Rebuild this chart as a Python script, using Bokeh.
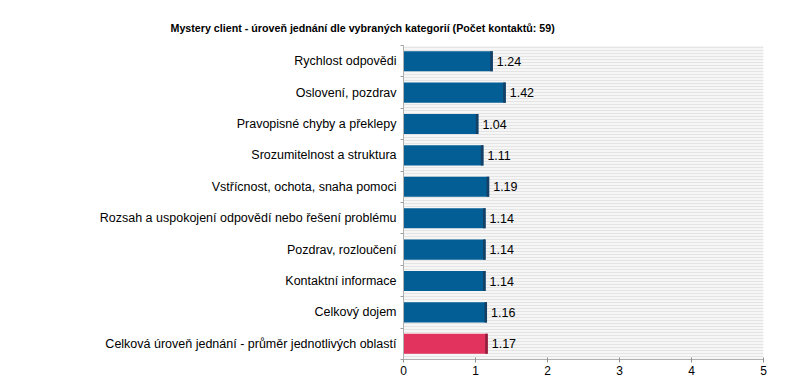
import numpy as np
from bokeh.plotting import figure
from bokeh.models import ColumnDataSource, FixedTicker, BoxAnnotation, Range1d, Title
from bokeh.core.properties import value
from bokeh.embed import file_html
from bokeh.resources import INLINE

title_text = "Mystery client - úroveň jednání dle vybraných kategorií (Počet kontaktů: 59)"
categories = [
    "Rychlost odpovědi",
    "Oslovení, pozdrav",
    "Pravopisné chyby a překlepy",
    "Srozumitelnost a struktura",
    "Vstřícnost, ochota, snaha pomoci",
    "Rozsah a uspokojení odpovědí nebo řešení problému",
    "Pozdrav, rozloučení",
    "Kontaktní informace",
    "Celkový dojem",
    "Celková úroveň jednání - průměr jednotlivých oblastí",
]
values = [1.24, 1.42, 1.04, 1.11, 1.19, 1.14, 1.14, 1.14, 1.16, 1.17]
highlight = [False] * 9 + [True]
x_ticks = [0, 1, 2, 3, 4, 5]

BLUE = "#035e95"
BLUE_EDGE = "#163f63"
RED = "#e2325e"
RED_EDGE = "#8e1f3d"
FONT = "Liberation Sans"

n = len(categories)
ypos = list(range(n - 1, -1, -1))
src = ColumnDataSource(dict(
    y=ypos,
    v=values,
    edge_left=[v - 0.035 for v in values],
    color=[RED if h else BLUE for h in highlight],
    edge=[RED_EDGE if h else BLUE_EDGE for h in highlight],
    lab=["%.2f" % v for v in values],
))

p = figure(width=792, height=377, output_backend="svg", toolbar_location=None,
           x_range=Range1d(0, 5), y_range=Range1d(-0.5, n - 0.5),
           min_border_left=403, min_border_right=29, min_border_top=45, min_border_bottom=17)
p.title = None
t = Title(text=title_text, align="left", offset=-233, standoff=23, text_font=FONT,
          text_font_size="10.7px", text_font_style="bold", text_color="#000000")
p.add_layout(t, "above")

p.outline_line_color = None
p.background_fill_color = "#ffffff"
p.border_fill_color = "#ffffff"
p.xgrid.visible = False
p.ygrid.visible = False

bg = BoxAnnotation(fill_color="#f6f6f6", fill_alpha=1.0, line_color=None,
                   hatch_pattern="horizontal_line", hatch_color="#e4e4e4",
                   hatch_scale=3, hatch_weight=1, level="underlay")
p.add_layout(bg)

p.hbar(y="y", left=0, right="v", height=0.64, fill_color="color", line_color=None, source=src)
p.hbar(y="y", left="edge_left", right="v", height=0.64, fill_color="edge", line_color=None, source=src)
p.text(x="v", y="y", text="lab", x_offset=4, text_baseline="middle", text_align="left",
       text_font=value(FONT), text_font_size="12.5px", text_color="#000000", source=src)

p.xaxis.ticker = FixedTicker(ticks=x_ticks)
p.xaxis.axis_line_color = "#b0b0b0"
p.xaxis.major_tick_line_color = "#909090"
p.xaxis.major_tick_in = 2
p.xaxis.major_tick_out = 3
p.xaxis.minor_tick_line_color = None
p.xaxis.major_label_standoff = 3
p.xaxis.major_label_text_font = FONT
p.xaxis.major_label_text_font_size = "12px"
p.xaxis.major_label_text_color = "#000000"

p.yaxis.ticker = FixedTicker(ticks=ypos, minor_ticks=[k + 0.5 for k in range(-1, n)])
p.yaxis.major_label_overrides = {y: c for y, c in zip(ypos, categories)}
p.yaxis.axis_line_color = "#b0b0b0"
p.yaxis.major_tick_line_color = None
p.yaxis.minor_tick_line_color = "#a0a0a0"
p.yaxis.minor_tick_out = 3
p.yaxis.minor_tick_in = 0
p.yaxis.major_label_standoff = 1
p.yaxis.major_label_text_font = FONT
p.yaxis.major_label_text_font_size = "12.5px"
p.yaxis.major_label_text_color = "#000000"

open("out.html", "w").write(file_html(p, INLINE))
